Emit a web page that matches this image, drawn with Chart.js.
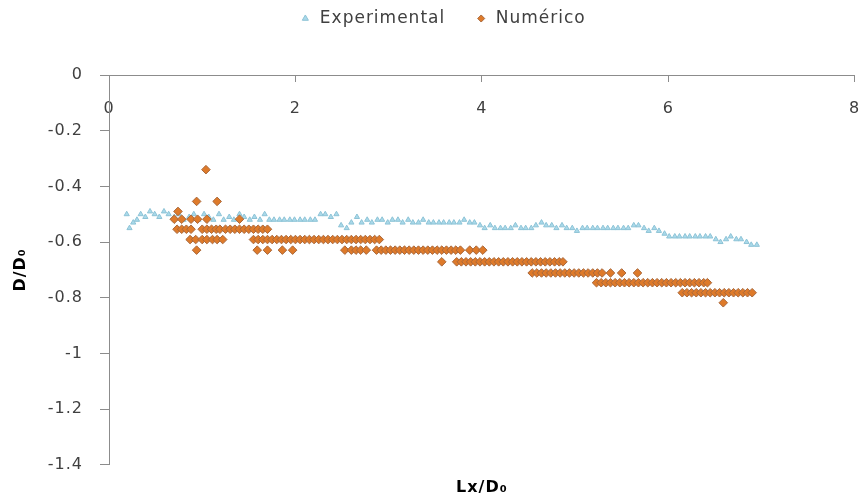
<!DOCTYPE html>
<html lang="es">
<head>
  <meta charset="UTF-8" />
  <title>D/D0 vs Lx/D0</title>
  <script src="https://cdn.jsdelivr.net/npm/chart.js"></script>
  <style>
    html, body { margin: 0; padding: 0; background: #fff; }
    #wrap { width: 860px; height: 502px; }
  </style>
</head>
<body>
  <div id="wrap"><canvas id="chart" width="860" height="502"></canvas></div>

  <script>
    // series names / axis ranges
    const seriesNames = ['Experimental', 'Numérico'];
    const xTicks = [0, 2, 4, 6, 8];
    const yTicks = [0, -0.2, -0.4, -0.6, -0.8, -1, -1.2, -1.4];

    // Experimental points
    const expX = [
      0.19, 0.22, 0.26, 0.30, 0.34, 0.39, 0.44, 0.49, 0.54, 0.59, 0.64, 0.70, 0.75, 0.80, 0.86, 0.91, 0.96, 1.02,
      1.07, 1.12, 1.18, 1.23, 1.29, 1.34, 1.40, 1.45, 1.51, 1.56, 1.62, 1.67,
      1.72, 1.77, 1.83, 1.88, 1.94, 1.99, 2.05, 2.10, 2.16, 2.21, 2.27, 2.32, 2.38, 2.44, 2.49, 2.55, 2.60,
      2.66, 2.71, 2.77, 2.82, 2.88, 2.93, 2.99, 3.04, 3.10, 3.15, 3.21, 3.26, 3.32, 3.37, 3.43, 3.48, 3.54, 3.59, 3.65, 3.70, 3.76, 3.81, 3.87, 3.92, 3.98,
      4.03, 4.09, 4.14, 4.20, 4.25, 4.31, 4.36, 4.42, 4.47, 4.53, 4.58, 4.64, 4.69, 4.75, 4.80, 4.86, 4.91, 4.97,
      5.02, 5.08, 5.13, 5.19, 5.24, 5.30, 5.35, 5.41, 5.46, 5.52, 5.57, 5.63, 5.68, 5.74, 5.79, 5.85, 5.90, 5.96,
      6.01, 6.07, 6.12, 6.18, 6.23, 6.29, 6.34, 6.40, 6.45, 6.51, 6.56, 6.62, 6.67, 6.73, 6.78, 6.84, 6.89, 6.95
    ];
    const expY = [
      -0.50, -0.55, -0.53, -0.52, -0.50, -0.51, -0.49, -0.50, -0.51, -0.49, -0.50, -0.51, -0.50, -0.52, -0.51, -0.50, -0.52, -0.50,
      -0.51, -0.52, -0.50, -0.52, -0.51, -0.52, -0.50, -0.51, -0.52, -0.51, -0.52, -0.50,
      -0.52, -0.52, -0.52, -0.52, -0.52, -0.52, -0.52, -0.52, -0.52, -0.52, -0.50, -0.50, -0.51, -0.50, -0.54, -0.55, -0.53,
      -0.51, -0.53, -0.52, -0.53, -0.52, -0.52, -0.53, -0.52, -0.52, -0.53, -0.52, -0.53, -0.53, -0.52, -0.53, -0.53, -0.53, -0.53, -0.53, -0.53, -0.53, -0.52, -0.53, -0.53, -0.54,
      -0.55, -0.54, -0.55, -0.55, -0.55, -0.55, -0.54, -0.55, -0.55, -0.55, -0.54, -0.53, -0.54, -0.54, -0.55, -0.54, -0.55, -0.55,
      -0.56, -0.55, -0.55, -0.55, -0.55, -0.55, -0.55, -0.55, -0.55, -0.55, -0.55, -0.54, -0.54, -0.55, -0.56, -0.55, -0.56, -0.57,
      -0.58, -0.58, -0.58, -0.58, -0.58, -0.58, -0.58, -0.58, -0.58, -0.59, -0.60, -0.59, -0.58, -0.59, -0.59, -0.60, -0.61, -0.61
    ];

    // Numérico: results sit on a few discrete levels, one x list per level
    const numLevels = [-0.518, -0.554, -0.591, -0.629, -0.671, -0.711, -0.746, -0.782];
    const numRows = [
      [0.70, 0.78, 0.88, 0.95, 1.05, 1.40],
      [0.73, 0.78, 0.83, 0.88, 1.00, 1.05, 1.10, 1.15, 1.19, 1.25, 1.30, 1.35, 1.40, 1.45, 1.50, 1.55, 1.60, 1.65, 1.70],
      [0.87, 0.93, 1.00, 1.05, 1.11, 1.16, 1.22, 1.55, 1.60, 1.65, 1.70, 1.75, 1.80, 1.85, 1.90, 1.95, 2.00, 2.05, 2.10,
       2.15, 2.20, 2.25, 2.30, 2.35, 2.40, 2.45, 2.50, 2.55, 2.60, 2.65, 2.70, 2.75, 2.80, 2.85, 2.90],
      [0.94, 1.59, 1.70, 1.86, 1.97, 2.53, 2.60, 2.65, 2.70, 2.76, 2.87, 2.92, 2.97, 3.02, 3.07, 3.12, 3.17, 3.22, 3.27,
       3.32, 3.37, 3.42, 3.47, 3.52, 3.57, 3.62, 3.67, 3.72, 3.77, 3.87, 3.94, 4.01],
      [3.57, 3.73, 3.78, 3.83, 3.88, 3.93, 3.98, 4.03, 4.08, 4.13, 4.18, 4.23, 4.28, 4.33, 4.38, 4.43, 4.48, 4.53, 4.58,
       4.63, 4.68, 4.73, 4.78, 4.83, 4.87],
      [4.54, 4.59, 4.64, 4.69, 4.74, 4.79, 4.84, 4.89, 4.94, 4.99, 5.04, 5.09, 5.14, 5.19, 5.24, 5.29, 5.38, 5.50, 5.67],
      [5.23, 5.28, 5.33, 5.38, 5.43, 5.48, 5.53, 5.58, 5.63, 5.68, 5.73, 5.78, 5.83, 5.88, 5.93, 5.98, 6.03, 6.08, 6.13,
       6.18, 6.23, 6.28, 6.33, 6.38, 6.42],
      [6.15, 6.20, 6.25, 6.30, 6.35, 6.40, 6.45, 6.50, 6.55, 6.60, 6.65, 6.70, 6.75, 6.80, 6.85, 6.90]
    ];
    // scattered single points off the levels
    const numExtraX = [1.04, 0.94, 1.16, 0.74, 6.59];
    const numExtraY = [-0.34, -0.454, -0.454, -0.49, -0.818];

    const expPoints = expX.map((x, i) => ({ x, y: expY[i] }));
    const numPoints = [];
    numRows.forEach((row, i) => row.forEach(x => numPoints.push({ x, y: numLevels[i] })));
    numExtraX.forEach((x, i) => numPoints.push({ x, y: numExtraY[i] }));

    const axisGray = '#8c8c8c';
    const textGray = '#404040';

    // the reference text is a little spread out
    const spacing = {
      id: 'spacing',
      beforeUpdate(chart) { chart.ctx.letterSpacing = '1px'; },
      beforeDraw(chart) { chart.ctx.letterSpacing = '1px'; }
    };

    // legend sits high and a bit right of centre, plot starts well below it
    const legendPlace = {
      id: 'legendPlace',
      beforeInit(chart) {
        const fit = chart.legend.fit;
        chart.legend.fit = function () {
          fit.bind(chart.legend)();
          this.height += 18;
        };
      },
      afterLayout(chart) {
        chart.legend.top -= 20;
        chart.legend.left += 30;
      }
    };

    new Chart(document.getElementById('chart'), {
      type: 'scatter',
      data: {
        datasets: [
          {
            label: seriesNames[0],
            data: expPoints,
            pointStyle: 'triangle',
            pointRadius: 3,
            backgroundColor: '#a9d9ea',
            borderColor: '#8dc3d6',
            borderWidth: 1,
            order: 2
          },
          {
            label: seriesNames[1],
            data: numPoints,
            pointStyle: 'rectRot',
            pointRadius: 4.3,
            backgroundColor: '#de7a2a',
            borderColor: '#a8683c',
            borderWidth: 1,
            order: 1
          }
        ]
      },
      options: {
        responsive: false,
        animation: false,
        layout: { padding: { top: 0, left: 0, right: 5, bottom: 1 } },
        plugins: {
          tooltip: { enabled: false },
          legend: {
            position: 'top',
            labels: {
              usePointStyle: true,
              boxWidth: 12,
              boxHeight: 5,
              padding: 30,
              color: textGray,
              font: { family: 'DejaVu Sans', size: 17 },
              sort: (a, b) => a.datasetIndex - b.datasetIndex
            }
          }
        },
        scales: {
          x: {
            type: 'linear',
            position: { y: 0 },
            min: xTicks[0],
            max: xTicks[xTicks.length - 1],
            ticks: {
              stepSize: xTicks[1] - xTicks[0],
              color: textGray,
              padding: 18,
              font: { family: 'DejaVu Sans', size: 16 }
            },
            grid: { drawOnChartArea: false, drawTicks: true, tickLength: 6, color: axisGray },
            border: { display: true, color: axisGray, width: 1 },
            afterFit(scale) { scale.paddingLeft = 0; scale.paddingRight = 0; }
          },
          x2: {
            type: 'linear',
            position: 'bottom',
            min: xTicks[0],
            max: xTicks[xTicks.length - 1],
            ticks: { display: false },
            grid: { display: false, drawTicks: false },
            border: { display: false },
            title: {
              display: true,
              text: 'Lx/D₀',
              color: '#000',
              padding: { top: 13, bottom: 4 },
              font: { family: 'DejaVu Sans', size: 16, weight: 'bold' }
            }
          },
          y: {
            type: 'linear',
            position: 'left',
            min: yTicks[yTicks.length - 1],
            max: yTicks[0],
            ticks: {
              stepSize: 0.2,
              color: textGray,
              padding: 17,
              font: { family: 'DejaVu Sans', size: 16 },
              callback: v => String(Number(v.toFixed(1)))
            },
            grid: { drawOnChartArea: false, drawTicks: true, tickLength: 9, color: axisGray },
            border: { display: true, color: axisGray, width: 1 },
            title: {
              display: true,
              text: 'D/D₀',
              color: '#000',
              padding: { top: 11, bottom: 0 },
              font: { family: 'DejaVu Sans', size: 16, weight: 'bold' }
            },
            afterFit(scale) { scale.width = 109; }
          }
        }
      },
      plugins: [spacing, legendPlace]
    });
  </script>
</body>
</html>
